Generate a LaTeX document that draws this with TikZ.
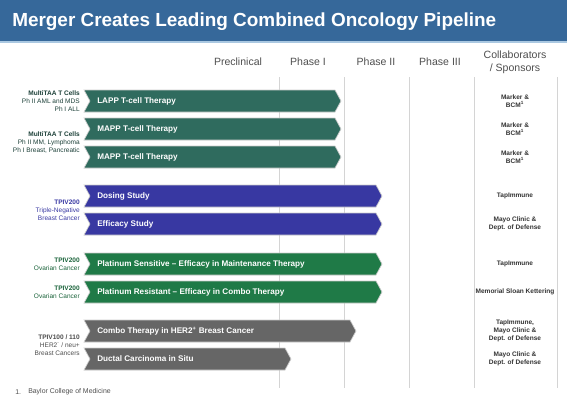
\documentclass[tikz,border=0pt]{standalone}
\usepackage{fontspec}
\setmainfont{Liberation Sans}
\usepackage{xcolor}
\usepackage{tikz}

\definecolor{titleblue}{RGB}{54,104,154}
\definecolor{titleline}{RGB}{170,200,225}
\definecolor{tealbar}{RGB}{47,107,94}
\definecolor{indigobar}{RGB}{56,56,162}
\definecolor{greenbar}{RGB}{31,122,71}
\definecolor{graybar}{RGB}{102,102,102}
\definecolor{headgray}{RGB}{78,78,78}
\definecolor{gridgray}{RGB}{212,212,212}

\begin{document}
\begin{tikzpicture}[x=0.75pt, y=-0.75pt,
    pipe/.style={draw=white!80!black, line width=0.5pt},
    bartext/.style={anchor=west, text=white, font=\fontsize{6.1}{7}\selectfont\bfseries, inner sep=0},
    phase/.style={text=headgray, font=\fontsize{7.9}{9.75}\selectfont, align=center, inner sep=0},
    sponsor/.style={text=black!80, font=\fontsize{4.9}{6}\selectfont\bfseries, align=center, inner sep=0},
    program/.style={anchor=east, font=\fontsize{4.9}{6}\selectfont, align=right, inner sep=0},
    gridline/.style={gridgray, line width=0.6pt}]
    \useasboundingbox (0,0) rectangle (581,397);

    % title bar
    \fill[titleblue] (0,0) rectangle (567,41);
    \draw[titleline, line width=1.2pt] (0,42) -- (567,42);
    \node[anchor=base west, inner sep=0, text=white, font=\fontsize{14.2}{16}\selectfont\bfseries] (title) at (12,26) {Merger Creates Leading Combined Oncology Pipeline};

    % column heads
    \node[phase] (precl) at (238,62) {Preclinical};
    \node[phase] (ph1) at (308,62) {Phase I};
    \node[phase] (ph2) at (376,62) {Phase II};
    \node[phase] (ph3) at (440,62) {Phase III};
    \node[phase] (collab) at (515,62) {Collaborators\\/ Sponsors};

    % grid
    \draw[gridline] (279,77) -- (279,388);
    \draw[gridline] (344,77) -- (344,388);
    \draw[gridline] (409,77) -- (409,388);
    \draw[gridline] (474,77) -- (474,388);
    \draw[gridline] (557,77) -- (557,388);

    % MultiTAA
    \filldraw[pipe, fill=tealbar] (84,90) -- (335,90) -- (341,101) -- (335,112) -- (84,112) -- (90,101) -- cycle;
    \filldraw[pipe, fill=tealbar] (84,118) -- (335,118) -- (341,129) -- (335,140) -- (84,140) -- (90,129) -- cycle;
    \filldraw[pipe, fill=tealbar] (84,146) -- (335,146) -- (341,157) -- (335,168) -- (84,168) -- (90,157) -- cycle;
    \node[bartext] (lapp) at (97,101) {LAPP T-cell Therapy};
    \node[bartext] (mapp1) at (97,129) {MAPP T-cell Therapy};
    \node[bartext] (mapp2) at (97,157) {MAPP T-cell Therapy};
    \node[program, text=tealbar!60!black] (multi1) at (80,101) {\textbf{MultiTAA T Cells}\\Ph II AML and MDS\\Ph I ALL};
    \node[program, text=tealbar!60!black] (multi2) at (80,143) {\textbf{MultiTAA T Cells}\\Ph II MM, Lymphoma\\Ph I Breast, Pancreatic};

    % TPIV200 breast
    \filldraw[pipe, fill=indigobar] (84,185) -- (376,185) -- (382,196) -- (376,207) -- (84,207) -- (90,196) -- cycle;
    \filldraw[pipe, fill=indigobar] (84,213) -- (376,213) -- (382,224) -- (376,235) -- (84,235) -- (90,224) -- cycle;
    \node[bartext] (dosing) at (97,196) {Dosing Study};
    \node[bartext] (efficacy) at (97,224) {Efficacy Study};
    \node[program, text=indigobar] (tnbc) at (80,210) {\textbf{TPIV200}\\Triple-Negative\\Breast Cancer};

    % TPIV200 ovarian
    \filldraw[pipe, fill=greenbar] (84,253) -- (376,253) -- (382,264) -- (376,275) -- (84,275) -- (90,264) -- cycle;
    \filldraw[pipe, fill=greenbar] (84,281) -- (376,281) -- (382,292) -- (376,303) -- (84,303) -- (90,292) -- cycle;
    \node[bartext] (platsens) at (97,264) {Platinum Sensitive -- Efficacy in Maintenance Therapy};
    \node[bartext] (platres) at (97,292) {Platinum Resistant -- Efficacy in Combo Therapy};
    \node[program, text=greenbar!80!black] (ovar1) at (80,264) {\textbf{TPIV200}\\Ovarian Cancer};
    \node[program, text=greenbar!80!black] (ovar2) at (80,292) {\textbf{TPIV200}\\Ovarian Cancer};

    % TPIV100/110
    \filldraw[pipe, fill=graybar] (84,320) -- (350,320) -- (356,331) -- (350,342) -- (84,342) -- (90,331) -- cycle;
    \filldraw[pipe, fill=graybar] (84,348) -- (285,348) -- (291,359) -- (285,370) -- (84,370) -- (90,359) -- cycle;
    \node[bartext] (combo) at (97,331) {Combo Therapy in HER2\textsuperscript{+} Breast Cancer};
    \node[bartext] (ductal) at (97,359) {Ductal Carcinoma in Situ};
    \node[program, text=black!70] (her2) at (80,345) {\textbf{TPIV100 / 110}\\HER2\textsuperscript{-} / neu+\\Breast Cancers};

    % sponsors
    \node[sponsor] (sp1) at (515,101) {Marker \&\\BCM\textsuperscript{1}};
    \node[sponsor] (sp2) at (515,129) {Marker \&\\BCM\textsuperscript{1}};
    \node[sponsor] (sp3) at (515,157) {Marker \&\\BCM\textsuperscript{1}};
    \node[sponsor] (sp4) at (515,196) {TapImmune};
    \node[sponsor] (sp5) at (515,224) {Mayo Clinic \&\\Dept. of Defense};
    \node[sponsor] (sp6) at (515,264) {TapImmune};
    \node[sponsor] (sp7) at (515,292) {Memorial Sloan Kettering};
    \node[sponsor] (sp8) at (515,331) {TapImmune,\\Mayo Clinic \&\\Dept. of Defense};
    \node[sponsor] (sp9) at (515,359) {Mayo Clinic \&\\Dept. of Defense};

    % footnote
    \node[anchor=west, inner sep=0, text=headgray, font=\fontsize{5.2}{6}\selectfont] (fnnum) at (15,392) {1.};
    \node[anchor=west, inner sep=0, text=headgray, font=\fontsize{5.2}{6}\selectfont] (fntext) at (28,392) {Baylor College of Medicine};
\end{tikzpicture}
\end{document}
